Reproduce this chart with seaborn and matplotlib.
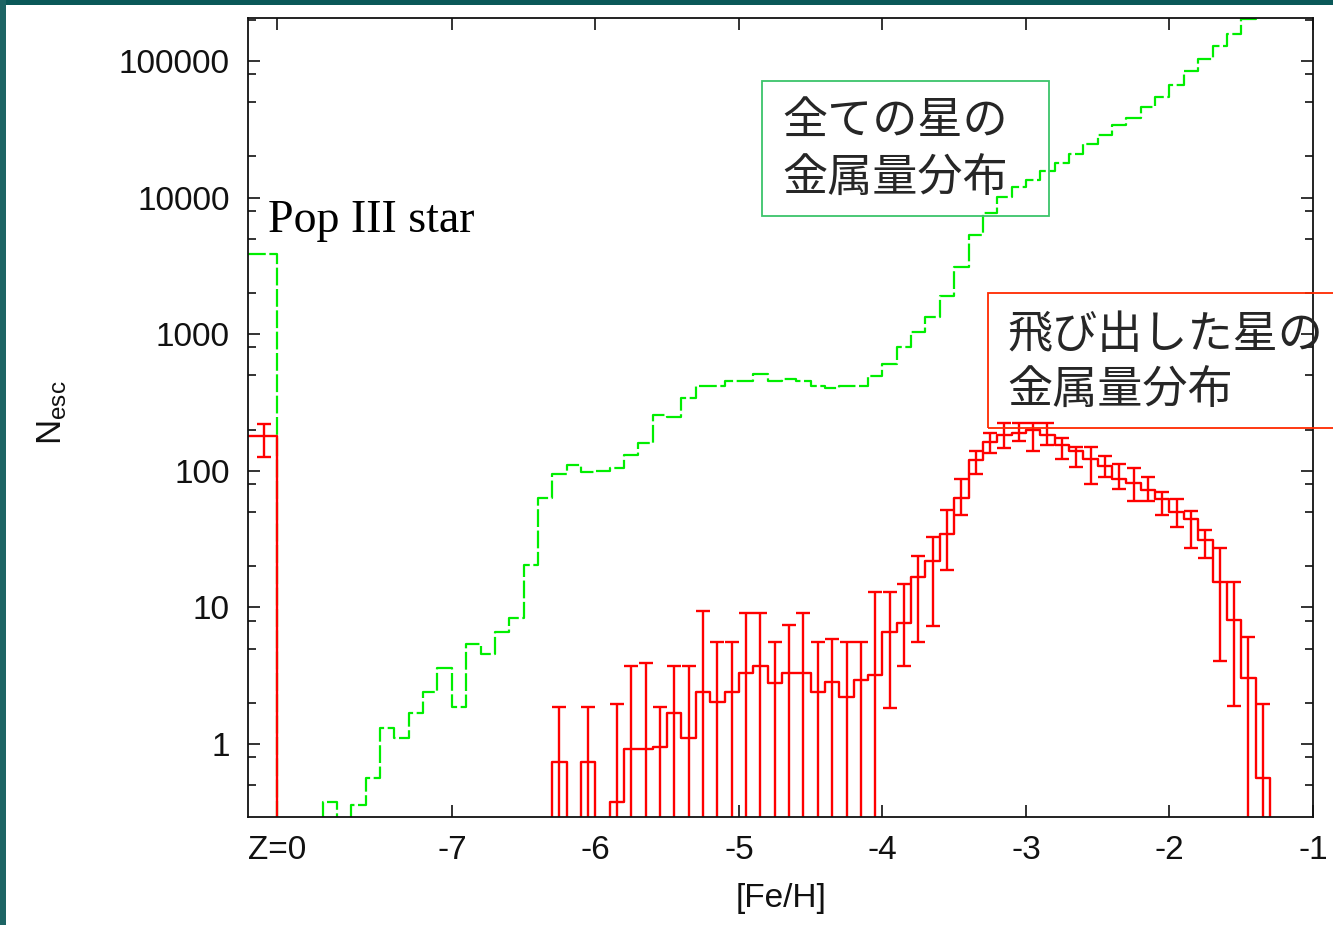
import numpy as np
import pandas as pd
import matplotlib
matplotlib.use("Agg")
import matplotlib.pyplot as plt
import seaborn as sns
from matplotlib.patches import Rectangle
from matplotlib.ticker import FixedLocator, FixedFormatter, NullFormatter, NullLocator

sns.set_theme(style="ticks")
plt.rcParams["font.family"] = ["Liberation Sans", "DejaVu Sans"]
plt.rcParams["mathtext.fontset"] = "custom"
plt.rcParams["mathtext.rm"] = "Liberation Sans"
plt.rcParams["mathtext.it"] = "Liberation Sans:italic"

# ---------------- data ----------------
popIII_edges = [-8.42, -8.22]          # Z=0 bin
popIII_center = -8.31
green_popIII = 3865
red_popIII = 181
red_popIII_lo = 126
red_popIII_hi = 220

bin_width = 0.1
green_first = -7.9                      # left edge of first 0.1 dex bin
green_counts = [0.378, 0, 0.357, 0.56, 1.32, 1.11, 1.68, 2.39, 3.62, 1.88,
                5.40, 4.56, 6.57, 8.32, 20.4, 62.9, 94.3, 110, 97.5, 100,
                105, 130, 159, 256, 246, 339, 418, 418, 454, 454,
                511, 454, 470, 454, 418, 402, 418, 418, 494, 605,
                802, 1043, 1343, 1914, 3118, 5320, 7700, 10150, 12000, 13460,
                15660, 17800, 20850, 24670, 28700, 34000, 38000, 46300, 54800, 66700,
                84900, 103500, 128800, 157700, 202000, 250000, 310000, 380000, 460000]

red_first = -6.3                        # left edge of first escaped-star bin
red_counts = [0.743, 0, 0.743, 0, 0.378, 0.914, 0.914, 0.955, 1.68, 1.11,
              2.39, 2.02, 2.39, 3.29, 3.72, 2.78, 3.29, 3.29, 2.39, 2.86,
              2.22, 2.94, 3.18, 6.57, 7.73, 16.6, 21.9, 34.3, 62.9, 120,
              163, 183, 190, 199, 183, 155, 140, 122, 108, 87,
              81, 72, 62, 50, 44, 31.3, 15.4, 8.05, 3.04, 0.565,
              0, 0, 0]
red_lower = [0, 0, 0, 0, 0, 0, 0, 0, 0, 0,
             0, 0, 0, 0, 0, 0, 0, 0, 0, 0,
             0, 0, 0, 1.82, 3.74, 5.61, 7.35, 18.8, 47.5, 94.8,
             134, 146, 165, 140, 155, 123, 106, 80, 90, 74,
             60, 60, 47.5, 38.5, 27, 22.9, 4.05, 1.90, 0, 0,
             0, 0, 0]
red_upper = [1.88, 0, 1.88, 0, 1.95, 3.72, 3.90, 1.88, 3.72, 3.72,
             9.41, 5.61, 5.61, 9.05, 9.05, 5.61, 7.43, 9.05, 5.61, 5.84,
             5.61, 5.61, 13.0, 13.0, 14.8, 23.9, 32.9, 51.6, 86.7, 140,
             190, 225, 225, 225, 225, 173, 150, 150, 128, 112,
             105, 90, 70, 62, 51, 36.8, 27, 15.4, 6.08, 1.97,
             0, 0, 0]

x_ticks = [-8.22, -7, -6, -5, -4, -3, -2, -1]
x_ticklabels = ["Z=0", "-7", "-6", "-5", "-4", "-3", "-2", "-1"]
y_ticks = [1, 10, 100, 1000, 10000, 100000]
y_ticklabels = ["1", "10", "100", "1000", "10000", "100000"]
y_minor_mult = [2, 5, 8]

# ---------------- build histogram table ----------------
n_bins = len(green_counts)
edges = popIII_edges + [round(green_first + i * bin_width, 2) for i in range(n_bins + 1)]
edges_arr = np.array(edges)
centers = 0.5 * (edges_arr[:-1] + edges_arr[1:])

green_h = [green_popIII, 0] + list(green_counts)
offset = int(round((red_first - green_first) / bin_width))
red_h = [red_popIII, 0] + [0] * offset + list(red_counts)
red_h = red_h + [0] * (len(centers) - len(red_h))
df = pd.DataFrame({"feh": centers, "all": np.array(green_h, float), "esc": np.array(red_h, float)})

# ---------------- figure ----------------
W, H = 1333, 925
fig = plt.figure(figsize=(W / 100, H / 100), dpi=100, facecolor="white")
ax = fig.add_axes([248 / W, 1 - 817 / H, (1313 - 248) / W, (817 - 18) / H])
ax.set_facecolor("white")
ax.set_yscale("log")

sns.histplot(data=df, x="feh", weights="all", bins=list(edges), element="step", fill=False,
             color="#00ee00", linewidth=1.6, linestyle=(0, (8, 1.6)), ax=ax)
sns.histplot(data=df, x="feh", weights="esc", bins=list(edges), element="step", fill=False,
             color="#ff0000", linewidth=1.7, ax=ax)

# error bars for escaped stars
rc = np.array(red_counts, dtype=float)
rl = np.array(red_lower, dtype=float)
ru = np.array(red_upper, dtype=float)
rx = np.array([red_first + (i + 0.5) * bin_width for i in range(len(rc))])
m = rc > 0
ex = np.concatenate([[popIII_center], rx[m]])
ey = np.concatenate([[red_popIII], rc[m]])
elo = np.concatenate([[red_popIII_lo], rl[m]])
ehi = np.concatenate([[red_popIII_hi], ru[m]])
ax.errorbar(ex, ey, yerr=[ey - elo, ehi - ey], fmt="none", ecolor="#ff0000",
            elinewidth=1.7, capsize=4.8, capthick=1.7)

ax.set_xlim(-8.42, -1.0)
ax.set_ylim(0.292, 2.065e5)
ax.set_xlabel("")
ax.set_ylabel("")

ax.xaxis.set_major_locator(FixedLocator(x_ticks))
ax.xaxis.set_major_formatter(FixedFormatter(x_ticklabels))
ax.xaxis.set_minor_locator(NullLocator())
ax.yaxis.set_major_locator(FixedLocator(y_ticks))
ax.yaxis.set_major_formatter(FixedFormatter(y_ticklabels))
ax.yaxis.set_minor_locator(FixedLocator([mm * 10.0 ** e for e in range(-1, 6) for mm in y_minor_mult]))
ax.yaxis.set_minor_formatter(NullFormatter())

ax.tick_params(which="both", direction="in", top=True, right=True, colors="#111111",
               width=1.2, labelsize=24)
ax.tick_params(which="major", length=8.8)
ax.tick_params(which="minor", length=5.5)
ax.tick_params(axis="y", which="major", pad=13)
ax.tick_params(axis="x", which="major", pad=13)
for s in ax.spines.values():
    s.set_linewidth(1.3)
    s.set_color("#111111")

# axis labels
fig.text(52 / W, 1 - 413 / H, r"N$_{\mathrm{esc}}$", rotation=90, ha="center", va="center",
         fontsize=25, color="#111111")
fig.text(781 / W, 1 - 899 / H, "[Fe/H]", ha="center", va="center", fontsize=24, color="#111111")

# annotations
fig.text(268 / W, 1 - 232 / H, "Pop III star", family=["Liberation Serif", "DejaVu Serif"],
         fontsize=33, ha="left", va="baseline", color="black")

cjk = ["Noto Sans CJK JP", "DejaVu Sans"]
fig.patches.append(Rectangle((762 / W, 1 - 216 / H), (1049 - 762) / W, (216 - 81) / H,
                             transform=fig.transFigure, fill=False, edgecolor="#3cc46a",
                             linewidth=1.3, zorder=5))
fig.text(782 / W, 1 - 121 / H, "全ての星の", family=cjk, fontsize=32.5, ha="left", va="center")
fig.text(782 / W, 1 - 179 / H, "金属量分布", family=cjk, fontsize=32.5, ha="left", va="center")

fig.patches.append(Rectangle((988 / W, 1 - 428 / H), (1345 - 988) / W, (428 - 293) / H,
                             transform=fig.transFigure, fill=False, edgecolor="#ff2a00",
                             linewidth=1.3, zorder=5, clip_on=False))
fig.text(1007 / W, 1 - 335 / H, "飛び出した星の", family=cjk, fontsize=32.5, ha="left", va="center")
fig.text(1007 / W, 1 - 391 / H, "金属量分布", family=cjk, fontsize=32.5, ha="left", va="center")

# slide frame strips
fig.patches.append(Rectangle((0, 1 - 5 / H), 1, 5 / H, transform=fig.transFigure,
                             facecolor="#0a5858", edgecolor="none", zorder=10))
fig.patches.append(Rectangle((0, 0), 6 / W, 1, transform=fig.transFigure,
                             facecolor="#1d6464", edgecolor="none", zorder=10))

fig.savefig("out.png", dpi=100, facecolor="white")
